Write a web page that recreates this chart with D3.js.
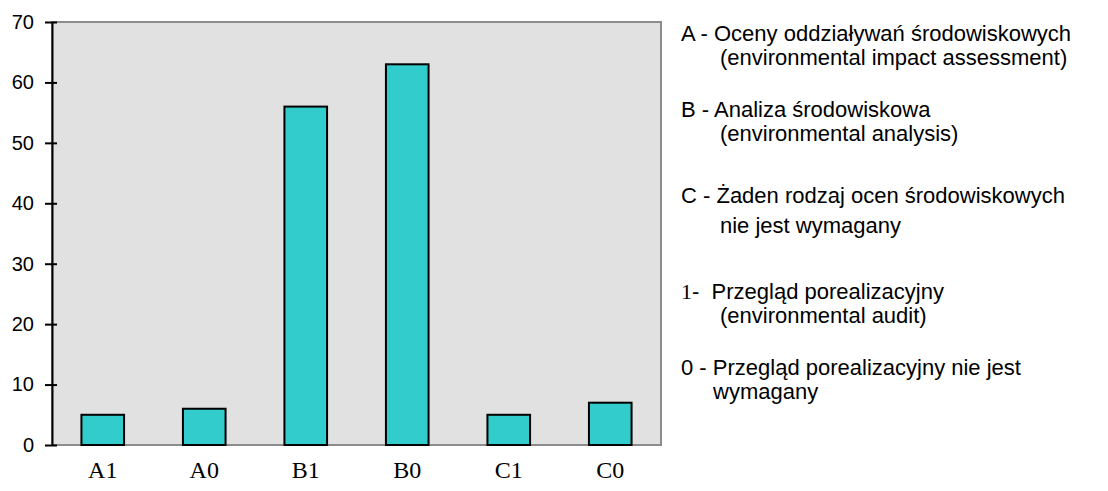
<!DOCTYPE html>
<html>
<head>
<meta charset="utf-8">
<script src="https://cdn.jsdelivr.net/npm/d3@7"></script>
<style>
html,body{margin:0;padding:0;background:#fff;}
svg{display:block;}
</style>
</head>
<body>
<svg id="chart" width="1108" height="491"></svg>
<script>
const categories = ["A1","A0","B1","B0","C1","C0"];
const values = [5, 6, 56, 63, 5, 7];
const yTicks = [0,10,20,30,40,50,60,70];
// [prefix (serif), text, indent level]
const legendLines = [
  ["", "A - Oceny oddziaływań środowiskowych", 0],
  ["", "(environmental impact assessment)", 1],
  ["", "B - Analiza środowiskowa", 0],
  ["", "(environmental analysis)", 1],
  ["", "C - Żaden rodzaj ocen środowiskowych", 0],
  ["", "nie jest wymagany", 1],
  ["1", "-  Przegląd porealizacyjny", 0],
  ["", "(environmental audit)", 1],
  ["", "0 - Przegląd porealizacyjny nie jest", 0],
  ["", "wymagany", 2]
];
const legendBaselines = [41, 65, 117, 141, 203, 233, 299, 323, 375, 399];

const svg = d3.select("#chart");
const pLeft = 52, pRight = 661, pTop = 22, pBottom = 445;

const x = d3.scaleBand().domain(categories).range([pLeft, pRight]).paddingInner(0.58).paddingOuter(0.29);
const y = d3.scaleLinear().domain([0, 70]).range([pBottom, pTop]);

// plot background
svg.append("rect").attr("x", pLeft).attr("y", pTop).attr("width", pRight-pLeft).attr("height", pBottom-pTop)
  .attr("fill", "#e1e1e1").attr("stroke", "#8c8c8c").attr("stroke-width", 2);

// bars
svg.selectAll("rect.bar").data(values).enter().append("rect").attr("class","bar")
  .attr("x", (d,i) => x(categories[i]))
  .attr("y", d => y(d))
  .attr("width", x.bandwidth())
  .attr("height", d => y(0) - y(d))
  .attr("fill", "#33cccc").attr("stroke", "#000").attr("stroke-width", 2);

// y axis
const yAxis = d3.axisLeft(y).tickValues(yTicks).tickSizeInner(7).tickSizeOuter(0).tickPadding(11);
const ga = svg.append("g").attr("transform", `translate(${pLeft},0)`).call(yAxis);
ga.select(".domain").attr("stroke", "#000").attr("stroke-width", 2);
ga.selectAll(".tick line").attr("stroke", "#000").attr("stroke-width", 2).attr("x2", -7).attr("x1", 5);
ga.selectAll(".tick text").attr("font-family", "Liberation Sans, Arial, sans-serif").attr("font-size", 20).attr("fill", "#000");

// x labels
const xAxis = d3.axisBottom(x).tickSize(0).tickPadding(16);
const gx = svg.append("g").attr("transform", `translate(0,${pBottom})`).call(xAxis);
gx.select(".domain").remove();
gx.selectAll(".tick text").attr("font-family", "Liberation Serif, Times New Roman, serif").attr("font-size", 24).attr("fill", "#000");

// legend
const lx = [681, 720, 713];
const lt = svg.append("g").selectAll("text").data(legendLines).enter().append("text")
  .attr("x", d => lx[d[2]])
  .attr("y", (d,i) => legendBaselines[i])
  .attr("font-family", "Liberation Sans, Arial, sans-serif")
  .attr("font-size", 22)
  .attr("fill", "#000")
  .attr("xml:space", "preserve")
  .style("white-space", "pre");
lt.filter(d => d[0]).append("tspan").attr("font-family", "Liberation Serif, Times New Roman, serif").text(d => d[0]);
lt.append("tspan").text(d => d[1]);
</script>
</body>
</html>
